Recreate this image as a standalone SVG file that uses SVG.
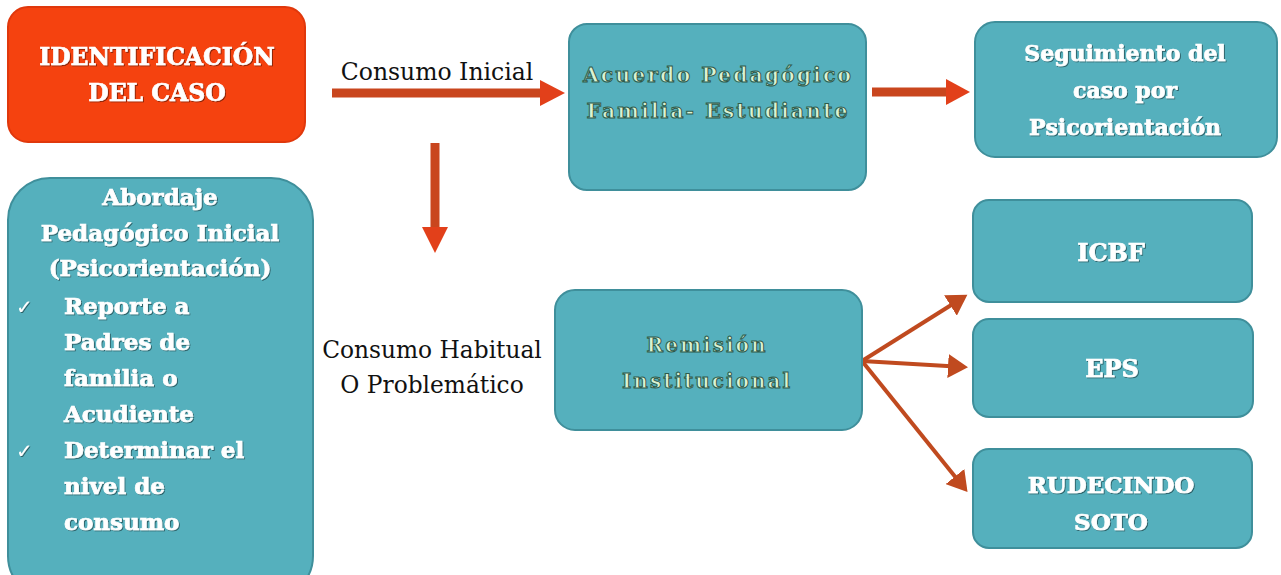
<svg xmlns="http://www.w3.org/2000/svg" width="1281" height="575" viewBox="0 0 1281 575">
<style>
.teal{fill:#55b0bd;stroke:#3f8f9b;stroke-width:2}
.red{fill:#f5420f;stroke:#e0380c;stroke-width:2}
.wt{font-family:"DejaVu Serif","Liberation Serif",serif;font-weight:bold;fill:#ffffff;stroke:#ffffff;stroke-width:0.7;text-anchor:middle}
.wl{font-family:"DejaVu Serif","Liberation Serif",serif;font-weight:bold;fill:#ffffff;stroke:#ffffff;stroke-width:0.7;text-anchor:start}
.ck{font-family:"DejaVu Sans","Liberation Sans",sans-serif;fill:#ffffff;text-anchor:start}
.ol{font-family:"DejaVu Serif","Liberation Serif",serif;font-weight:bold;fill:#dcf3d2;stroke:#2e5b4c;stroke-width:1;text-anchor:middle;letter-spacing:2px}
.lbl{font-family:"DejaVu Serif","Liberation Serif",serif;fill:#111111;text-anchor:middle}
.shaft{stroke:#c9461e;stroke-width:9;fill:none}
.head{fill:#e2401a}
.thin{stroke:#c04a1f;stroke-width:4;fill:none;marker-end:url(#ah)}
</style>
<defs>
<filter id="sh" x="-5%" y="-5%" width="110%" height="110%">
<feDropShadow dx="1" dy="1" stdDeviation="0.6" flood-color="#000" flood-opacity="0.45"/>
</filter>
<marker id="ah" markerWidth="6" markerHeight="6" refX="4" refY="3" orient="auto" markerUnits="strokeWidth">
<path d="M0,0 L5,3 L0,6 Z" fill="#c04a1f"/>
</marker>
</defs>
<rect width="1281" height="575" fill="#ffffff"/>

<g id="connectors">
<line class="shaft" x1="332" y1="93" x2="543" y2="93"/>
<polygon class="head" points="540,80 565,93 540,106"/>
<line class="shaft" x1="872" y1="92" x2="948" y2="92"/>
<polygon class="head" points="946,79 970,92 946,105"/>
<line class="shaft" x1="435" y1="143" x2="435" y2="229"/>
<polygon class="head" points="422,227 435,253 448,227"/>
<line class="thin" x1="862" y1="361" x2="964" y2="297"/>
<line class="thin" x1="862" y1="361" x2="964" y2="367"/>
<line class="thin" x1="862" y1="361" x2="965" y2="489"/>
</g>

<g id="lbl-inicial"><text class="lbl" x="437" y="80" font-size="23.5">Consumo Inicial</text></g>
<g id="lbl-habitual">
<text class="lbl" x="432" y="358" font-size="23.3">Consumo Habitual</text>
<text class="lbl" x="432" y="393" font-size="23.3">O Problemático</text>
</g>

<g id="identificacion">
<rect class="red" x="8" y="7" width="297" height="135" rx="20"/>
<g filter="url(#sh)">
<text class="wt" x="157" y="65" font-size="23.5">IDENTIFICACIÓN</text>
<text class="wt" x="157" y="101" font-size="23.5">DEL CASO</text>
</g>
</g>

<g id="abordaje">
<rect class="teal" x="8" y="178" width="305" height="420" rx="42"/>
<g filter="url(#sh)">
<text class="wt" x="160" y="205" font-size="23">Abordaje</text>
<text class="wt" x="160" y="241" font-size="23">Pedagógico Inicial</text>
<text class="wt" x="160" y="276" font-size="23">(Psicorientación)</text>
<text class="ck" x="16" y="314" font-size="20">✓</text>
<text class="wl" x="64" y="314" font-size="23">Reporte a</text>
<text class="wl" x="64" y="350" font-size="23">Padres de</text>
<text class="wl" x="64" y="386" font-size="23">familia o</text>
<text class="wl" x="64" y="422" font-size="23">Acudiente</text>
<text class="ck" x="16" y="458" font-size="20">✓</text>
<text class="wl" x="64" y="458" font-size="23">Determinar el</text>
<text class="wl" x="64" y="494" font-size="23">nivel de</text>
<text class="wl" x="64" y="530" font-size="23">consumo</text>
</g>
</g>

<g id="acuerdo">
<rect class="teal" x="569" y="24" width="297" height="166" rx="18"/>
<text class="ol" x="718" y="82" font-size="20.5">Acuerdo Pedagógico</text>
<text class="ol" x="718" y="118" font-size="20.5">Familia- Estudiante</text>
</g>

<g id="seguimiento">
<rect class="teal" x="975" y="22" width="302" height="135" rx="20"/>
<g filter="url(#sh)">
<text class="wt" x="1125" y="61" font-size="22">Seguimiento del</text>
<text class="wt" x="1125" y="98" font-size="22">caso por</text>
<text class="wt" x="1125" y="135" font-size="22">Psicorientación</text>
</g>
</g>

<g id="remision">
<rect class="teal" x="555" y="290" width="307" height="140" rx="20"/>
<text class="ol" x="707" y="352" font-size="20">Remisión</text>
<text class="ol" x="707" y="388" font-size="20">Institucional</text>
</g>

<g id="icbf">
<rect class="teal" x="973" y="200" width="279" height="102" rx="16"/>
<text class="wt" x="1111" y="261" font-size="24" filter="url(#sh)">ICBF</text>
</g>

<g id="eps">
<rect class="teal" x="973" y="319" width="280" height="98" rx="16"/>
<text class="wt" x="1112" y="377" font-size="24" filter="url(#sh)">EPS</text>
</g>

<g id="rudecindo">
<rect class="teal" x="973" y="449" width="279" height="99" rx="16"/>
<g filter="url(#sh)">
<text class="wt" x="1111" y="493" font-size="23">RUDECINDO</text>
<text class="wt" x="1111" y="530" font-size="23">SOTO</text>
</g>
</g>
</svg>
